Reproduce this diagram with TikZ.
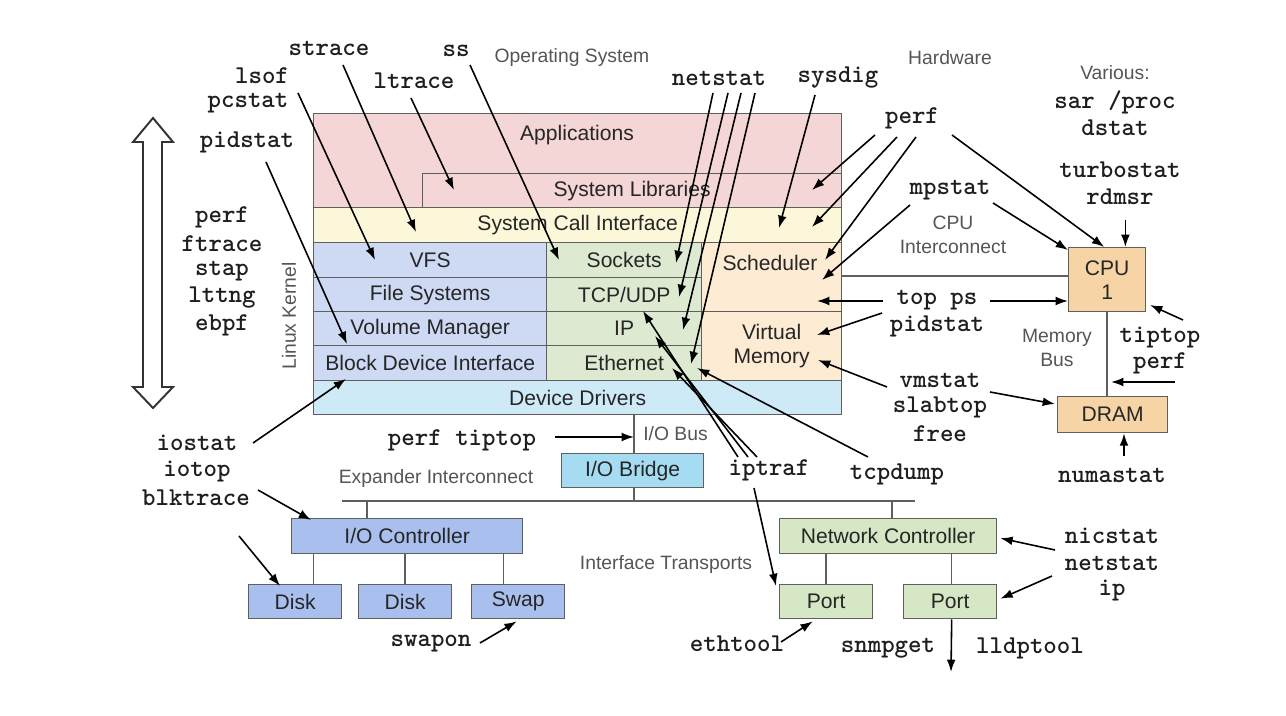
\documentclass[tikz,border=0pt]{standalone}
\usepackage{fontspec}
\setmainfont{Liberation Sans}
\usepackage{tikz}
\usetikzlibrary{arrows.meta, positioning}
\definecolor{appcol}{RGB}{244,214,214}
\definecolor{callcol}{RGB}{253,247,218}
\definecolor{fscol}{RGB}{206,218,243}
\definecolor{netcol}{RGB}{221,233,208}
\definecolor{memcol}{RGB}{253,235,212}
\definecolor{drvcol}{RGB}{206,234,246}
\definecolor{hwcol}{RGB}{246,212,166}
\definecolor{bridgecol}{RGB}{166,220,242}
\definecolor{diskcol}{RGB}{169,192,239}
\definecolor{niccol}{RGB}{213,231,196}
\definecolor{edgecol}{RGB}{95,95,95}
\definecolor{notecol}{RGB}{85,85,85}
\definecolor{toolcol}{RGB}{30,30,30}
\tikzstyle{layer} = [draw=edgecol, line width=0.8pt, inner sep=0, anchor=north west, align=center,
                    text=black!85, font=\fontsize{12}{13.6}\selectfont]
\tikzstyle{layertext} = [inner sep=0, text=black!85, font=\fontsize{12}{13.6}\selectfont]
\tikzstyle{tool} = [inner sep=0, text=toolcol, font=\fontsize{14.6}{15}\selectfont\ttfamily\bfseries]
\tikzstyle{note} = [inner sep=0, text=notecol, align=center, font=\fontsize{11}{13.6}\selectfont]
\tikzstyle{probe} = [draw=black, line width=0.9pt, -{Latex[length=7pt, width=5pt]}]
\tikzstyle{wire} = [draw=edgecol, line width=0.8pt]

\begin{document}
\begin{tikzpicture}[x=0.02cm, y=-0.02cm]
				\useasboundingbox (0,0) rectangle (1286,716);

				% operating system stack
				\node (Apps) [layer, fill=appcol, minimum width=10.56cm, minimum height=1.88cm] at (313,113) {};
				\node (AppsText) [layertext] at (577,135) {Applications};
				\node (SysLib) [layer, fill=appcol, minimum width=8.38cm, minimum height=0.68cm] at (422,173) {System Libraries};
				\node (SysCall) [layer, fill=callcol, minimum width=10.56cm, minimum height=0.7cm] at (313,207) {System Call Interface};
				\node (VFS) [layer, fill=fscol, minimum width=4.66cm, minimum height=0.7cm] at (313,242) {VFS};
				\node (FileSys) [layer, fill=fscol, minimum width=4.66cm, minimum height=0.68cm] at (313,277) {File Systems};
				\node (VolMgr) [layer, fill=fscol, minimum width=4.66cm, minimum height=0.68cm] at (313,311) {Volume Manager};
				\node (BlockDev) [layer, fill=fscol, minimum width=4.66cm, minimum height=0.7cm] at (313,345) {Block Device Interface};
				\node (Sockets) [layer, fill=netcol, minimum width=3.1cm, minimum height=0.7cm] at (546,242) {Sockets};
				\node (TcpUdp) [layer, fill=netcol, minimum width=3.1cm, minimum height=0.68cm] at (546,277) {TCP/UDP};
				\node (IP) [layer, fill=netcol, minimum width=3.1cm, minimum height=0.68cm] at (546,311) {IP};
				\node (Ether) [layer, fill=netcol, minimum width=3.1cm, minimum height=0.7cm] at (546,345) {Ethernet};
				\node (Sched) [layer, fill=memcol, minimum width=2.8cm, minimum height=1.38cm] at (701,242) {};
				\node (SchedText) [layertext] at (770,263) {Scheduler};
				\node (VirtMem) [layer, fill=memcol, minimum width=2.8cm, minimum height=1.38cm] at (701,311) {Virtual\\Memory};
				\node (DevDrv) [layer, fill=drvcol, minimum width=10.56cm, minimum height=0.68cm] at (313,380) {Device Drivers};

				% hardware
				\node (CPU) [layer, fill=hwcol, minimum width=1.54cm, minimum height=1.28cm] at (1068,247) {CPU\\1};
				\node (DRAM) [layer, fill=hwcol, minimum width=2.2cm, minimum height=0.72cm] at (1057,396) {DRAM};
				\node (IOBridge) [layer, fill=bridgecol, minimum width=2.84cm, minimum height=0.68cm] at (561,453) {I/O Bridge};
				\node (IOCtl) [layer, fill=diskcol, minimum width=4.62cm, minimum height=0.7cm] at (291,518) {I/O Controller};
				\node (Disk1) [layer, fill=diskcol, minimum width=1.86cm, minimum height=0.68cm] at (248,584) {Disk};
				\node (Disk2) [layer, fill=diskcol, minimum width=1.86cm, minimum height=0.68cm] at (358,584) {Disk};
				\node (Swap) [layer, fill=diskcol, minimum width=1.86cm, minimum height=0.68cm] at (471,584) {Swap};
				\node (NetCtl) [layer, fill=niccol, minimum width=4.34cm, minimum height=0.7cm] at (779,518) {Network Controller};
				\node (Port1) [layer, fill=niccol, minimum width=1.86cm, minimum height=0.68cm] at (779,584) {Port};
				\node (Port2) [layer, fill=niccol, minimum width=1.86cm, minimum height=0.68cm] at (903,584) {Port};

				% buses
				\coordinate (IcLeft) at (841,276);
				\draw [wire] (IcLeft) -- (IcLeft -| CPU.west);
				\draw [wire] (CPU.south) -- (CPU.south |- DRAM.north);
				\coordinate (IOBusTop) at (634,414);
				\draw [wire] (IOBusTop) -- (IOBusTop |- IOBridge.north);
				\coordinate (BusLeft) at (342,501);
				\coordinate (BusRight) at (915,501);
				\draw [wire] (BusLeft) -- (BusRight);
				\draw [wire] (IOBusTop |- IOBridge.south) -- (IOBusTop |- BusLeft);
				\coordinate (IOCtlTap) at (367,501);
				\draw [wire] (IOCtlTap) -- (IOCtlTap |- IOCtl.north);
				\coordinate (NetTap) at (892,501);
				\draw [wire] (NetTap) -- (NetTap |- NetCtl.north);
				\foreach \d/\s in {Disk1/0.37cm, Disk2/0cm, Swap/-0.29cm}
					\draw [wire] ([xshift=\s]\d.north) -- ([xshift=\s]\d.north |- IOCtl.south);
				\draw [wire] (Port1.north) -- (Port1.north |- NetCtl.south);
				\draw [wire] ([xshift=0.03cm]Port2.north) -- ([xshift=0.03cm]Port2.north |- NetCtl.south);

				% area labels
				\node (OpSys) [note] at (572,58) {Operating System};
				\node (Hardware) [note] at (950,58) {Hardware};
				\node (Various) [note] at (1115,73) {Various:};
				\node (CpuIc) [note] at (953,235) {CPU\\Interconnect};
				\node (MemBus) [note] at (1057,348) {Memory\\Bus};
				\node (Kernel) [note, rotate=90] at (289,316) {Linux Kernel};
				\node (IOBus) [note, anchor=west] at (643,434) {I/O Bus};
				\node (Expander) [note] at (436,479) {Expander Interconnect};
				\node (Transports) [note] at (666,565) {Interface Transports};

				% double arrow over the whole stack
				\draw [line width=1.1pt, draw=black!80, fill=white] (153,118) -- (173,142) -- (162,142) -- (162,387)
					-- (173,387) -- (153,408) -- (133,387) -- (143,387) -- (143,142) -- (133,142) -- cycle;
				\foreach \t [count=\i] in {perf, ftrace, stap, lttng, ebpf}
					\node (Trace\i) [tool] at (222,190+27*\i) {\t};

				% tools, left and top
				\node (Strace) [tool] at (329,48) {strace};
				\node (Lsof) [tool] at (262,76) {lsof};
				\node (Pcstat) [tool] at (248,103) {pcstat};
				\node (Ss) [tool] at (456,51) {ss};
				\node (Ltrace) [tool] at (414,81) {ltrace};
				\node (PidstatL) [tool] at (247,142) {pidstat};
				\node (Netstat) [tool] at (719,78) {netstat};
				\node (Sysdig) [tool] at (838,78) {sysdig};

				% tools, right
				\node (PerfHw) [tool] at (912,118) {perf};
				\node (Sar) [tool] at (1115,102) {sar /proc};
				\node (Dstat) [tool] at (1115,128) {dstat};
				\node (Turbostat) [tool] at (1120,170) {turbostat};
				\node (Rdmsr) [tool] at (1120,197) {rdmsr};
				\node (Mpstat) [tool] at (950,190) {mpstat};
				\node (TopPs) [tool] at (937,300) {top ps};
				\node (PidstatR) [tool] at (937,326) {pidstat};
				\node (Tiptop) [tool] at (1160,337) {tiptop};
				\node (PerfMem) [tool] at (1160,363) {perf};
				\node (Vmstat) [tool] at (940,380) {vmstat};
				\node (Slabtop) [tool] at (940,407) {slabtop};
				\node (Free) [tool] at (940,434) {free};
				\node (Numastat) [tool] at (1112,475) {numastat};
				\node (Tcpdump) [tool] at (897,474) {tcpdump};
				\node (Iptraf) [tool] at (769,470) {iptraf};

				% tools, bottom
				\node (PerfTiptop) [tool] at (462,440) {perf tiptop};
				\node (Iostat) [tool] at (197,443) {iostat};
				\node (Iotop) [tool] at (197,471) {iotop};
				\node (Blktrace) [tool] at (196,498) {blktrace};
				\node (Swapon) [tool] at (431,644) {swapon};
				\node (Ethtool) [tool] at (737,644) {ethtool};
				\node (Snmpget) [tool] at (888,648) {snmpget};
				\node (Lldptool) [tool] at (1030,648) {lldptool};
				\node (Nicstat) [tool] at (1112,536) {nicstat};
				\node (NetstatB) [tool] at (1112,563) {netstat};
				\node (Ip) [tool] at (1112,590) {ip};

				% probes into the stack
				\coordinate (LsofOut) at (298,93);
				\coordinate (VfsIn) at (375,260);
				\draw [probe] (LsofOut) -- (VfsIn);
				\coordinate (StraceOut) at (343,65);
				\coordinate (CallInL) at (416,232);
				\draw [probe] (StraceOut) -- (CallInL);
				\coordinate (LtraceOut) at (411,98);
				\coordinate (LibInL) at (454,190);
				\draw [probe] (LtraceOut) -- (LibInL);
				\coordinate (SsOut) at (470,65);
				\coordinate (SockInL) at (559,260);
				\draw [probe] (SsOut) -- (SockInL);
				\coordinate (PidstatLOut) at (266,162);
				\coordinate (VolIn) at (347,344);
				\draw [probe] (PidstatLOut) -- (VolIn);

				\coordinate (NetstatA) at (713,93);
				\coordinate (NetstatB1) at (728,93);
				\coordinate (NetstatC) at (741,93);
				\coordinate (NetstatD) at (755,93);
				\coordinate (SockIn) at (676,263);
				\coordinate (TcpIn) at (679,297);
				\coordinate (IpIn) at (683,330);
				\coordinate (EtherIn) at (691,364);
				\draw [probe] (NetstatA) -- (SockIn);
				\draw [probe] (NetstatB1) -- (TcpIn);
				\draw [probe] (NetstatC) -- (IpIn);
				\draw [probe] (NetstatD) -- (EtherIn);
				\coordinate (SysdigOut) at (815,95);
				\coordinate (CallInR) at (779,228);
				\draw [probe] (SysdigOut) -- (CallInR);

				\coordinate (PerfOutA) at (875,135);
				\coordinate (PerfOutB) at (897,137);
				\coordinate (PerfOutC) at (916,137);
				\coordinate (PerfOutD) at (952,135);
				\coordinate (LibInR) at (812,190);
				\coordinate (CallInRR) at (812,227);
				\coordinate (SchedInA) at (825,260);
				\draw [probe] (PerfOutA) -- (LibInR);
				\draw [probe] (PerfOutB) -- (CallInRR);
				\draw [probe] (PerfOutC) -- (SchedInA);
				\draw [probe] (PerfOutD) -- ([xshift=-0.06cm]CPU.north);
				\coordinate (MpstatOutL) at (910,205);
				\coordinate (MpstatOutR) at (993,203);
				\coordinate (SchedInB) at (822,280);
				\draw [probe] (MpstatOutL) -- (SchedInB);
				\draw [probe] (MpstatOutR) -- ([yshift=-0.06cm]CPU.north west);
				\draw [probe] ([yshift=-0.3cm]Rdmsr.south -| CPU.north east) ++(-0.42cm,0) coordinate (RdmsrOut)
					-- (RdmsrOut |- CPU.north);

				\coordinate (TopPsOutL) at (883,301);
				\coordinate (SchedInC) at (817,301);
				\coordinate (TopPsOutR) at (990,301);
				\draw [probe] (TopPsOutL) -- (SchedInC);
				\draw [probe] (TopPsOutR) -- (TopPsOutR -| CPU.west);
				\coordinate (PidstatROut) at (882,313);
				\coordinate (VirtIn) at (817,335);
				\draw [probe] (PidstatROut) -- (VirtIn);
				\coordinate (VmstatOutL) at (887,387);
				\coordinate (MemIn) at (818,360);
				\draw [probe] (VmstatOutL) -- (MemIn);
				\coordinate (VmstatOutR) at (990,392);
				\coordinate (DramIn) at (1055,404);
				\draw [probe] (VmstatOutR) -- (DramIn);
				\coordinate (TiptopOut) at (1183,320);
				\coordinate (CpuCorner) at (1150,305);
				\draw [probe] (TiptopOut) -- (CpuCorner);
				\coordinate (PerfMemOut) at (1175,382);
				\coordinate (BusIn) at (1111,382);
				\draw [probe] (PerfMemOut) -- (BusIn);
				\coordinate (NumastatOut) at (1124,456);
				\draw [probe] (NumastatOut) -- (NumastatOut |- DRAM.south);

				\coordinate (IptrafA) at (738,457);
				\coordinate (IptrafB) at (748,457);
				\coordinate (IptrafC) at (757,457);
				\coordinate (TcpInB) at (643,311);
				\coordinate (IpInB) at (655,336);
				\coordinate (EtherInB) at (672,368);
				\draw [probe] (IptrafA) -- (TcpInB);
				\draw [probe] (IptrafB) -- (IpInB);
				\draw [probe] (IptrafC) -- (EtherInB);
				\coordinate (IptrafDown) at (754,488);
				\draw [probe] (IptrafDown) -- ([shift={(-0.06cm,-0.04cm)}]Port1.north west);
				\coordinate (TcpdumpOut) at (868,457);
				\coordinate (EtherInC) at (697,368);
				\draw [probe] (TcpdumpOut) -- (EtherInC);

				% probes into the devices
				\coordinate (PerfTiptopOut) at (555,437);
				\draw [probe] (PerfTiptopOut) -- (PerfTiptopOut -| IOBusTop);
				\coordinate (IostatOut) at (253,443);
				\coordinate (BlockIn) at (346,379);
				\draw [probe] (IostatOut) -- (BlockIn);
				\coordinate (IotopOut) at (258,490);
				\draw [probe] (IotopOut) -- ([shift={(0.4cm,-0.04cm)}]IOCtl.north west);
				\coordinate (BlktraceOut) at (239,536);
				\draw [probe] (BlktraceOut) -- ([shift={(0.64cm,-0.04cm)}]Disk1.north west);
				\coordinate (SwaponOut) at (480,643);
				\draw [probe] (SwaponOut) -- ([shift={(-0.03cm,-0.04cm)}]Swap.south);
				\coordinate (EthtoolOut) at (781,642);
				\draw [probe] (EthtoolOut) -- ([shift={(-0.27cm,-0.04cm)}]Port1.south);
				\coordinate (NicstatOut) at (1055,550);
				\draw [probe] (NicstatOut) -- ([shift={(0.06cm,-0.04cm)}]NetCtl.east);
				\coordinate (NetstatBOut) at (1052,576);
				\draw [probe] (NetstatBOut) -- ([shift={(0.06cm,0.06cm)}]Port2.east);
				\coordinate (LinkOut) at (951,672);
				\draw [probe] ([xshift=0.03cm]Port2.south) -- (LinkOut);
			\end{tikzpicture}
\end{document}
